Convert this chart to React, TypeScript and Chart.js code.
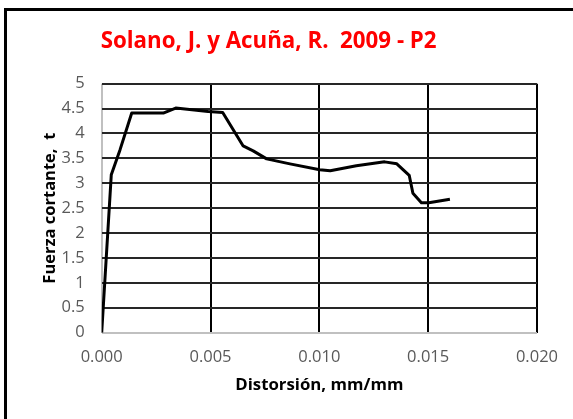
import React, { useEffect, useRef } from "react";
import { Chart, registerables } from "chart.js";

Chart.register(...registerables);

const chartTitle = "Solano, J. y Acuña, R.  2009 - P2";
const xAxisTitle = "Distorsión, mm/mm";
const yAxisTitle = "Fuerza cortante,  t";

const distortion = [0, 0.00044, 0.00084, 0.00138, 0.00283, 0.0034, 0.00489, 0.00556, 0.0065, 0.00696, 0.00758, 0.00865, 0.01002, 0.0105, 0.0117, 0.013, 0.01356, 0.01413, 0.0143, 0.01469, 0.01503, 0.016];
const force = [0, 3.17, 3.67, 4.41, 4.41, 4.51, 4.44, 4.42, 3.75, 3.65, 3.49, 3.39, 3.27, 3.25, 3.35, 3.43, 3.39, 3.16, 2.8, 2.61, 2.61, 2.68];

const xMin = 0, xMax = 0.02, xStep = 0.005;
const yMin = 0, yMax = 5, yStep = 0.5;

const FONT = "'Open Sans', 'Liberation Sans', sans-serif";

export default function App() {
  const ref = useRef<HTMLCanvasElement | null>(null);
  useEffect(() => {
    if (!ref.current) return;
    const points = distortion.map((x, i) => ({ x, y: force[i] }));
    const chart = new Chart(ref.current, {
      type: "scatter",
      data: {
        datasets: [
          {
            data: points,
            showLine: true,
            borderColor: "#000000",
            borderWidth: 3,
            borderJoinStyle: "round",
            pointRadius: 0,
            tension: 0,
            fill: false,
          },
        ],
      },
      options: {
        animation: false,
        responsive: true,
        maintainAspectRatio: false,
        layout: { padding: { left: 0, right: 35.7, top: 0, bottom: 0 } },
        plugins: {
          legend: { display: false },
          tooltip: { enabled: false },
          title: {
            display: true,
            text: chartTitle,
            color: "#ff0000",
            font: { family: FONT, size: 22.3, weight: "bold", lineHeight: 1.2 },
            padding: { top: 28.6, bottom: 28.3 },
          },
        },
        scales: {
          x: {
            type: "linear",
            min: xMin,
            max: xMax,
            afterFit: (s: any) => { s.height = 86.3; },
            ticks: {
              stepSize: xStep,
              color: "#595959",
              padding: 15,
              font: { family: FONT, size: 16.5 },
              callback: (v: any) => Number(v).toFixed(3),
            },
            grid: {
              drawTicks: false,
              color: (c: any) => (c.tick && c.tick.value === 0 ? "#c0c0c0" : "#000000"),
              lineWidth: 2,
            },
            border: { display: false },
            title: {
              display: true,
              text: xAxisTitle,
              color: "#000000",
              font: { family: FONT, size: 16.8, weight: "bold", lineHeight: 1.2 },
              padding: { top: 0, bottom: 24 },
            },
          },
          y: {
            type: "linear",
            min: yMin,
            max: yMax,
            afterFit: (s: any) => { s.width = 101.7; },
            ticks: {
              stepSize: yStep,
              color: "#595959",
              padding: 17,
              font: { family: FONT, size: 16.5 },
              callback: (v: any) => String(Number(Number(v).toFixed(1))),
            },
            grid: {
              drawTicks: false,
              color: (c: any) => (c.tick && c.tick.value === 0 ? "#c0c0c0" : "#262626"),
              lineWidth: 2,
            },
            border: { display: false },
            title: {
              display: true,
              text: yAxisTitle,
              color: "#000000",
              font: { family: FONT, size: 16.5, weight: "bold", lineHeight: 1.2 },
              padding: { top: 40.2, bottom: 0 },
            },
          },
        },
      },
    });
    return () => chart.destroy();
  }, []);

  return (
    <div style={{ position: "fixed", left: 0, top: 0, width: 573, height: 419, background: "#ffffff", overflow: "hidden" }}>
      <div style={{ position: "absolute", left: 4, top: 8, width: 700, height: 600, border: "3px solid #000", boxSizing: "border-box" }} />
      <div style={{ position: "absolute", left: 0, top: 0, width: 573, height: 419 }}>
        <canvas ref={ref} />
      </div>
    </div>
  );
}
